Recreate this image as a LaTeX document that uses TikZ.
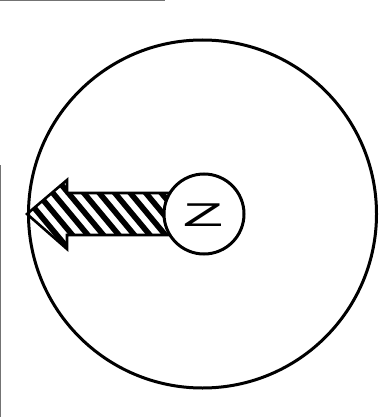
\documentclass[tikz,border=0pt]{standalone}
\usepackage{fontspec}
\newfontfamily\zfont{Liberation Sans}
\begin{document}
\begin{tikzpicture}[x=1pt,y=-1pt,line join=miter,
  ring/.style={draw=black,line width=3pt,circle,inner sep=0pt},
  outline/.style={draw=black,line width=2.6pt},
  hatchline/.style={line width=5.6pt,black},
  edge/.style={draw=black!55,line width=1.2pt}]
\useasboundingbox (0,0) rectangle (383,417);
\fill[white] (0,0) rectangle (383,417);
\draw[edge] (0.6,165) -- (0.6,417);
\draw[edge] (0,0.6) -- (165,0.6);
\node[ring,minimum size=348pt] (big) at (202.5,214) {};
\coordinate (tip) at (big.west);
\coordinate (bt) at (67,180);
\coordinate (st) at (67,193);
\coordinate (se) at (178,193);
\coordinate (sb) at (178,235);
\coordinate (sf) at (67,235);
\coordinate (bb) at (67,249);
\begin{scope}
  \clip (tip) -- (bt) -- (st) -- (se) -- (sb) -- (sf) -- (bb) -- cycle;
  \foreach \i in {-8,...,14}
    \draw[hatchline] ({14+\i*15.5},165) -- ++(70,84);
\end{scope}
\draw[outline] (se) -- (st) -- (bt) -- (tip) -- (bb) -- (sf) -- (sb);
\node[ring,fill=white,minimum size=80pt] (small) at (204,214) {};
\node[inner sep=0pt,xscale=2.0] (z) at (203,215.5) {\zfont\fontsize{33}{33}\selectfont Z};
\end{tikzpicture}
\end{document}
